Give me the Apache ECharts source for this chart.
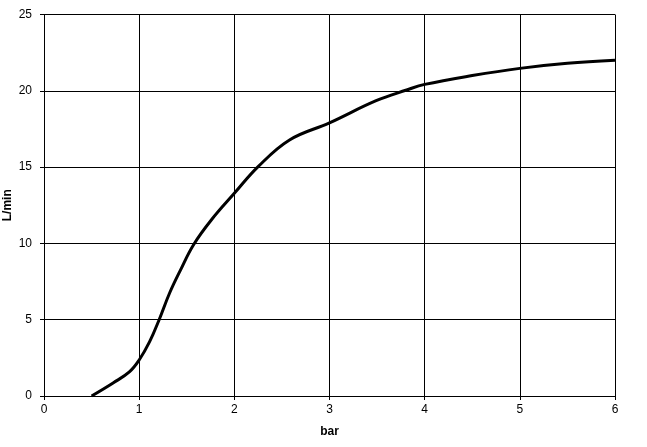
<!DOCTYPE html>
<html>
<head>
<meta charset="utf-8">
<script src="https://cdn.jsdelivr.net/npm/echarts@6/dist/echarts.min.js"></script>
<style>html,body{margin:0;padding:0;background:#fff;}#c{width:647px;height:447px;}</style>
</head>
<body>
<div id="c"></div>
<script>
const pressureBar = [0.5, 0.73, 0.9, 1.0, 1.11, 1.21, 1.32, 1.43, 1.57, 1.76, 2.0, 2.25, 2.58, 3.0, 3.49, 3.81, 4.0, 4.5, 5.0, 5.5, 6.0];
const flowLmin    = [0.0, 0.87, 1.6, 2.36, 3.56, 5.0, 6.75, 8.2, 9.9, 11.55, 13.28, 15.03, 16.78, 17.9, 19.35, 20.05, 20.42, 21.0, 21.47, 21.8, 22.0];
const xAxisName = 'bar';
const yAxisName = 'L/min';

const chart = echarts.init(document.getElementById('c'), null, {renderer: 'canvas'});
const font = 'Liberation Sans, Arial, sans-serif';
chart.setOption({
  animation: false,
  grid: {left: 44, right: 32, top: 14.5, bottom: 51, containLabel: false, outerBoundsMode: 'none'},
  xAxis: {
    type: 'value', min: 0, max: 6, interval: 1,
    name: xAxisName, nameLocation: 'middle', nameGap: 30, nameMoveOverlap: false,
    nameTextStyle: {fontFamily: font, fontSize: 12, fontWeight: 'bold', color: '#000'},
    axisLine: {show: true, lineStyle: {color: '#000', width: 1}},
    axisTick: {show: true, inside: false, length: 4, lineStyle: {color: '#000'}},
    axisLabel: {fontFamily: font, fontSize: 12, color: '#000', margin: 8},
    splitLine: {show: true, lineStyle: {color: '#000', width: 1}}
  },
  yAxis: {
    type: 'value', min: 0, max: 25, interval: 5,
    name: yAxisName, nameLocation: 'middle', nameGap: 30, nameMoveOverlap: false,
    nameTextStyle: {fontFamily: font, fontSize: 12, fontWeight: 'bold', color: '#000'},
    axisLine: {show: true, lineStyle: {color: '#000', width: 1}},
    axisTick: {show: true, inside: false, length: 4, lineStyle: {color: '#000'}},
    axisLabel: {fontFamily: font, fontSize: 12, color: '#000', margin: 12},
    splitLine: {show: true, lineStyle: {color: '#000', width: 1}}
  },
  series: [{
    type: 'line',
    data: pressureBar.map((x, i) => [x, flowLmin[i]]),
    smooth: 0.4,
    showSymbol: false,
    lineStyle: {color: '#000', width: 3}
  }]
});
</script>
</body>
</html>
